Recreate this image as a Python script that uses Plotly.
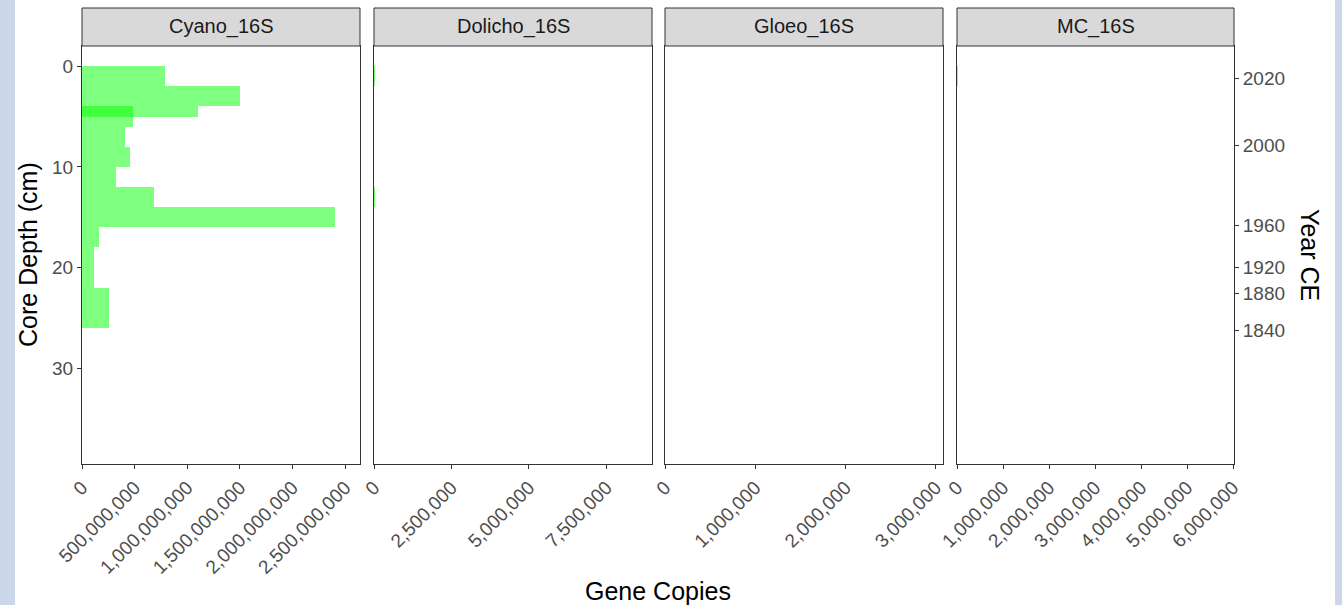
import plotly.graph_objects as go

# ---------------- data ----------------
panels = ["Cyano_16S", "Dolicho_16S", "Gloeo_16S", "MC_16S"]

cyano_top = [0, 2, 4, 4, 6, 8, 10, 12, 14, 16, 18, 22]
cyano_bottom = [2, 4, 5, 6, 8, 10, 12, 14, 16, 18, 22, 26]
cyano_copies = [788e6, 1500e6, 1099e6, 481e6, 408e6, 456e6, 320e6, 687e6,
                2403e6, 164e6, 117e6, 256e6]

dolicho_top = [0, 12]
dolicho_bottom = [2, 14]
dolicho_copies = [32000, 30000]

gloeo_top = [0, 12]
gloeo_bottom = [2, 14]
gloeo_copies = [2000, 2000]

mc_top = [0, 12]
mc_bottom = [2, 14]
mc_copies = [12000, 10000]

x_ranges = [[0, 2.64e9], [0, 8.97e6], [0, 3.08e6], [0, 6.02e6]]
x_ticks = [
    [0, 5e8, 1e9, 1.5e9, 2e9, 2.5e9],
    [0, 2.5e6, 5e6, 7.5e6],
    [0, 1e6, 2e6, 3e6],
    [0, 1e6, 2e6, 3e6, 4e6, 5e6, 6e6],
]
depth_ticks = [0, 10, 20, 30]
year_labels = ["2020", "2000", "1960", "1920", "1880", "1840"]
year_depths = [1.2, 7.9, 15.8, 20.0, 22.6, 26.2]

series = [
    (cyano_top, cyano_bottom, cyano_copies),
    (dolicho_top, dolicho_bottom, dolicho_copies),
    (gloeo_top, gloeo_bottom, gloeo_copies),
    (mc_top, mc_bottom, mc_copies),
]

# ---------------- layout geometry ----------------
W, H = 1342, 605
px_x = [(82, 360), (374, 652), (665, 943), (957, 1234)]
plot_top, plot_bottom = 46, 464
strip_top = 8
y_dom = [1 - plot_bottom / H, 1 - plot_top / H]
y_range = [39.5, -2]

FAMILY = "Liberation Sans, Arial, sans-serif"
TICK_FONT = dict(family=FAMILY, size=19, color="#4D4D4D")
TITLE_FONT = dict(family=FAMILY, size=25, color="#000000")
LINE = "#333333"

fig = go.Figure()

for i, (top, bot, vals) in enumerate(series):
    n = i + 1
    mids = [(a + b) / 2 for a, b in zip(top, bot)]
    widths = [b - a for a, b in zip(top, bot)]
    fig.add_trace(go.Bar(
        x=vals, y=mids, width=widths, orientation="h",
        marker=dict(color="rgba(0,255,0,0.5)", line=dict(width=0)),
        xaxis=f"x{n}" if n > 1 else "x", yaxis=f"y{n}" if n > 1 else "y",
        showlegend=False, hoverinfo="x+y",
    ))

# invisible trace for the secondary (year) axis
fig.add_trace(go.Scatter(x=[None], y=[None], xaxis="x4", yaxis="y5",
                         showlegend=False, hoverinfo="skip"))

layout = dict(
    width=W, height=H,
    margin=dict(l=0, r=0, t=0, b=0, autoexpand=False),
    paper_bgcolor="white", plot_bgcolor="white",
    barmode="overlay", bargap=0,
    font=TICK_FONT,
)

for i in range(4):
    n = i + 1
    xs = "" if n == 1 else str(n)
    x0, x1 = px_x[i]
    layout[f"xaxis{xs}"] = dict(
        domain=[x0 / W, x1 / W], anchor=f"y{xs}", range=x_ranges[i],
        tickvals=x_ticks[i], tickformat=",", tickangle=-45,
        ticks="outside", ticklen=4, tickcolor=LINE, tickwidth=1,
        showline=True, linecolor=LINE, linewidth=1, mirror=True,
        showgrid=False, zeroline=False, tickfont=TICK_FONT, automargin=False,
    )
    layout[f"yaxis{xs}"] = dict(
        domain=y_dom, anchor=f"x{xs}", range=y_range,
        showline=True, linecolor=LINE, linewidth=1, mirror=True,
        showgrid=False, zeroline=False,
        tickvals=depth_ticks if n == 1 else [],
        ticks="outside" if n == 1 else "", ticklen=4, tickcolor=LINE,
        showticklabels=(n == 1), tickfont=TICK_FONT, automargin=False,
    )

layout["yaxis5"] = dict(
    overlaying="y4", anchor="x4", side="right", range=y_range,
    tickvals=year_depths, ticktext=year_labels,
    ticks="outside", ticklen=4, tickcolor=LINE, automargin=False,
    showgrid=False, zeroline=False, showline=False, tickfont=TICK_FONT,
)

shapes = []
annotations = []
# screenshot background edges
shapes.append(dict(type="rect", xref="paper", yref="paper", x0=0, x1=15 / W, y0=0, y1=1,
                   fillcolor="#CBD7E8", line=dict(width=0), layer="below"))
shapes.append(dict(type="rect", xref="paper", yref="paper", x0=1335 / W, x1=1, y0=0, y1=1,
                   fillcolor="#CBD7E8", line=dict(width=0), layer="below"))
for i, name in enumerate(panels):
    x0, x1 = px_x[i]
    shapes.append(dict(type="rect", xref="paper", yref="paper",
                       x0=x0 / W, x1=x1 / W, y0=1 - plot_top / H, y1=1 - strip_top / H,
                       fillcolor="#D9D9D9", line=dict(color=LINE, width=1)))
    annotations.append(dict(text=name, xref="paper", yref="paper",
                            x=(x0 + x1) / 2 / W, y=1 - (plot_top + strip_top) / 2 / H,
                            showarrow=False, xanchor="center", yanchor="middle",
                            font=dict(family=FAMILY, size=20, color="#1A1A1A")))

annotations.append(dict(text="Gene Copies", xref="paper", yref="paper",
                        x=658 / W, y=1 - 591 / H, showarrow=False,
                        xanchor="center", yanchor="middle", font=TITLE_FONT))
annotations.append(dict(text="Core Depth (cm)", xref="paper", yref="paper",
                        x=28 / W, y=1 - 255 / H, showarrow=False, textangle=-90,
                        xanchor="center", yanchor="middle", font=TITLE_FONT))
annotations.append(dict(text="Year CE", xref="paper", yref="paper",
                        x=1310 / W, y=1 - 255 / H, showarrow=False, textangle=90,
                        xanchor="center", yanchor="middle", font=TITLE_FONT))

layout["shapes"] = shapes
layout["annotations"] = annotations
fig.update_layout(**layout)

fig.write_html(
    "out.html",
    config={"displayModeBar": False},
    post_script="document.body.style.margin='0px';"
                "document.documentElement.style.overflow='hidden';"
                "document.body.style.overflow='hidden';",
)
